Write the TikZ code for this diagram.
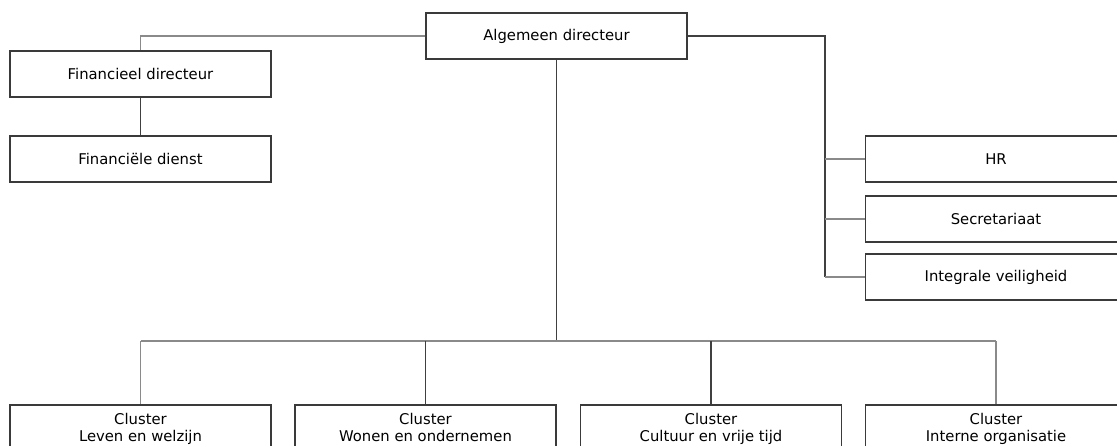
\documentclass[tikz,border=0pt]{standalone}
\usepackage{fontspec}
\setmainfont{DejaVu Sans}
\begin{document}
\begin{tikzpicture}[x=1pt,y=-1pt,
  box/.style={draw=boxc,line width=1.4pt,minimum width=261pt,minimum height=46pt,inner sep=0pt,align=center,font=\fontsize{14.8}{17}\selectfont,text=black},
  cbox/.style={box,minimum height=50pt},
  lnd/.style={draw=darkc,line width=1.1pt},
  lnl/.style={draw=lightc,line width=1.1pt}]
\definecolor{boxc}{HTML}{3A3A3A}
\definecolor{darkc}{HTML}{404040}
\definecolor{lightc}{HTML}{8A8A8A}
\useasboundingbox (0,0) rectangle (1117,445);
\begin{scope}
\clip (0,0) rectangle (1117,445);
\node[box] (alg) at (556.5,36) {Algemeen directeur};
\node[box] (fin) at (140.5,74) {Financieel directeur};
\node[box] (fdi) at (140.5,159) {Financiële dienst};
\node[box] (hr) at (996,159) {HR};
\node[box] (sec) at (996,219) {Secretariaat};
\node[box] (int) at (996,277) {Integrale veiligheid};
\node[cbox] (c1) at (140.5,430) {\strut Cluster\\Leven en welzijn\strut};
\node[cbox] (c2) at (425.5,430) {\strut Cluster\\Wonen en ondernemen\strut};
\node[cbox] (c3) at (711,430) {\strut Cluster\\Cultuur en vrije tijd\strut};
\node[cbox] (c4) at (996,430) {\strut Cluster\\Interne organisatie\strut};
\coordinate (rb) at (825,36);
\coordinate (bus) at (556.5,341);
\draw[lnl] (alg.west) -| (fin.north);
\draw[lnd] (fin.south) -- (fdi.north);
\draw[lnd] (alg.east) -- (rb) -- (rb |- int.west);
\draw[lnl] (rb |- hr.west) -- (hr.west);
\draw[lnl] (rb |- sec.west) -- (sec.west);
\draw[lnl] (rb |- int.west) -- (int.west);
\draw[lnd] (alg.south) -- (bus);
\draw[lnl] (c1.north |- bus) -- (c4.north |- bus);
\draw[lnl] (c1.north |- bus) -- (c1.north);
\draw[lnd] (c2.north |- bus) -- (c2.north);
\draw[lnd] (c3.north |- bus) -- (c3.north);
\draw[lnl] (c4.north |- bus) -- (c4.north);
\end{scope}
\end{tikzpicture}
\end{document}
